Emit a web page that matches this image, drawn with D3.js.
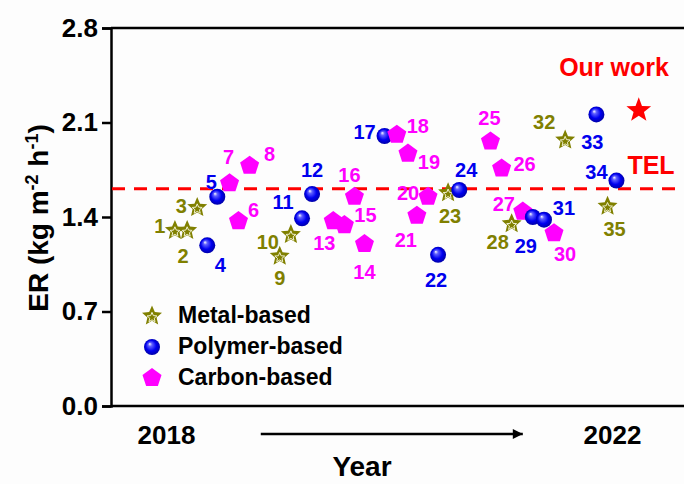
<!DOCTYPE html>
<html>
<head>
<meta charset="utf-8">
<script src="https://cdn.jsdelivr.net/npm/d3@7"></script>
<style>
body { margin: 0; background: #fff; }
text { font-family: "Liberation Sans", Arial, sans-serif; font-weight: bold; }
</style>
</head>
<body>
<div id="chart"></div>
<script>
// ER of reported evaporators, 2018 -> 2022

var width = 684;
var height = 484;
var plotLeft = 111, plotTop = 28, plotBottom = 406, plotRight = 700;

// data
var pointIds   = [1, 2, 3, 4, 5, 6, 7, 8, 9, 10, 11, 12, 13, 14, 15, 16, 17, 18,
                  19, 20, 21, 22, 23, 24, 25, 26, 27, 28, 29, 30, 31, 32, 33, 34, 35];
var pointYear  = [2018.08, 2018.19, 2018.28, 2018.37, 2018.46, 2018.65, 2018.57, 2018.75, 2019.02, 2019.12,
                  2019.22, 2019.31, 2019.50, 2019.78, 2019.60, 2019.69, 2019.96, 2020.07, 2020.17, 2020.35,
                  2020.25, 2020.44, 2020.53, 2020.63, 2020.91, 2021.01, 2021.20, 2021.10, 2021.29, 2021.48,
                  2021.39, 2021.58, 2021.86, 2022.04, 2021.96];
var pointER    = [1.30, 1.30, 1.47, 1.19, 1.55, 1.37, 1.65, 1.78, 1.11, 1.27,
                  1.39, 1.57, 1.37, 1.20, 1.34, 1.55, 2.00, 2.01, 1.87, 1.55,
                  1.41, 1.12, 1.58, 1.60, 1.96, 1.76, 1.44, 1.35, 1.40, 1.28,
                  1.38, 1.97, 2.16, 1.67, 1.48];
var pointType  = ["M", "M", "M", "P", "P", "C", "C", "C", "M", "M",
                  "P", "P", "C", "C", "C", "C", "P", "C", "C", "C",
                  "C", "P", "M", "P", "C", "C", "C", "M", "P", "C",
                  "P", "M", "P", "P", "M"];
var ourYear = 2022.24, ourER = 2.19;
var telER = 1.61;
var yTicks = [0, 0.7, 1.4, 2.1, 2.8];
var xTicks = [2018, 2022];
var legendNames = ["Metal-based", "Polymer-based", "Carbon-based"];
var legendTypes = ["M", "P", "C"];

// label placement around each marker (layout only)
var labelOffsets = [[-15,-5],[-4,25],[-16,-2],[13,20],[-6,-15],[15,-11],[-1,-26],[20,-12],[0,22],[-23,7],
                    [-19,-16],[0,-24],[-9,22],[0,28],[21,-10],[-5,-22],[-20,-4],[21,-9],[21,8],[-20,-4],
                    [-11,24],[-2,25],[2,23],[7,-20],[-1,-23],[23,-4],[-19,-8],[-14,18],[-7,29],[11,21],
                    [20,-12],[-21,-18],[-4,28],[-20,-9],[7,23]];

var typeColor = { M: "#808000", P: "#0000ee", C: "#ff00ff" };

var svg = d3.select("#chart")
            .append("svg")
            .attr("width", width)
            .attr("height", height);

svg.append("rect").attr("width", width).attr("height", height).attr("fill", "#fdfdfd");

var defs = svg.append("defs");
var grad = defs.append("radialGradient").attr("id", "sphere")
               .attr("cx", "50%").attr("cy", "50%").attr("r", "55%")
               .attr("fx", "35%").attr("fy", "30%");
grad.append("stop").attr("offset", "0%").attr("stop-color", "#ffffff");
grad.append("stop").attr("offset", "22%").attr("stop-color", "#6060ff");
grad.append("stop").attr("offset", "60%").attr("stop-color", "#0000f0");
grad.append("stop").attr("offset", "100%").attr("stop-color", "#00009a");

// scales
var x = d3.scaleLinear().domain([2018, 2022]).range([166, 612]);
var y = d3.scaleLinear().domain([0, 2.8]).range([plotBottom, plotTop]);

// polygon helpers
function starPath(R, ratio) {
    var pts = [];
    for (var k = 0; k < 10; k++) {
        var r = (k % 2 == 0) ? R : R * ratio;
        var a = -Math.PI / 2 + k * Math.PI / 5;
        pts.push([r * Math.cos(a), r * Math.sin(a)]);
    }
    return "M" + pts.join("L") + "Z";
}
function pentagonPath(R) {
    var pts = [];
    for (var k = 0; k < 5; k++) {
        var a = -Math.PI / 2 + k * 2 * Math.PI / 5;
        pts.push([R * Math.cos(a), R * Math.sin(a)]);
    }
    return "M" + pts.join("L") + "Z";
}

function drawMarker(g, type) {
    if (type == "M") {
        g.append("path").attr("d", starPath(10.5, 0.46)).attr("fill", "#808000");
        g.append("path").attr("d", starPath(5.2, 0.45)).attr("transform", "translate(0,1.5)")
         .attr("fill", "none").attr("stroke", "#f0f0d0").attr("stroke-width", 1);
    } else if (type == "P") {
        g.append("circle").attr("r", 8).attr("fill", "url(#sphere)");
    } else {
        g.append("path").attr("d", pentagonPath(10)).attr("fill", "#ff00ff");
    }
}

// frame
svg.append("line").attr("x1", plotLeft).attr("x2", plotRight)
   .attr("y1", plotTop).attr("y2", plotTop)
   .attr("stroke", "#000").attr("stroke-width", 2.5);
svg.append("line").attr("x1", plotLeft).attr("x2", plotRight)
   .attr("y1", plotBottom).attr("y2", plotBottom)
   .attr("stroke", "#000").attr("stroke-width", 2.5);

// y axis
var yAxis = svg.append("g")
   .attr("transform", "translate(" + plotLeft + ",0)")
   .call(d3.axisLeft(y).tickValues(yTicks).tickSize(9).tickPadding(4).tickFormat(d3.format(".1f")));
yAxis.select(".domain").attr("stroke-width", 2.5);
yAxis.selectAll(".tick line").attr("stroke-width", 2.5);
yAxis.selectAll("text").attr("font-size", 26).attr("fill", "#000")
     .attr("font-family", "Liberation Sans, Arial, sans-serif").attr("font-weight", "bold");

// x axis: only year labels
var xAxis = svg.append("g")
   .attr("transform", "translate(0," + plotBottom + ")")
   .call(d3.axisBottom(x).tickValues(xTicks).tickSize(0).tickPadding(20).tickFormat(d3.format("d")));
xAxis.select(".domain").remove();
xAxis.selectAll("text").attr("font-size", 26).attr("fill", "#000")
     .attr("font-family", "Liberation Sans, Arial, sans-serif").attr("font-weight", "bold");

// arrow under the axis
defs.append("marker").attr("id", "arrowhead")
    .attr("viewBox", "0 0 10 10").attr("refX", 10).attr("refY", 5)
    .attr("markerWidth", 16).attr("markerHeight", 10).attr("markerUnits", "userSpaceOnUse")
    .attr("orient", "auto")
    .append("path").attr("d", "M0,0L10,5L0,10Z").attr("fill", "#000");
svg.append("line")
   .attr("x1", x(2018.85)).attr("x2", x(2021.2))
   .attr("y1", 434).attr("y2", 434)
   .attr("stroke", "#000").attr("stroke-width", 2.5)
   .attr("marker-end", "url(#arrowhead)");

// axis titles
svg.append("text").attr("x", 362).attr("y", 476).attr("text-anchor", "middle")
   .attr("font-size", 28).text("Year");

var yt = svg.append("text")
   .attr("transform", "translate(48,218) rotate(-90)")
   .attr("text-anchor", "middle").attr("font-size", 28);
yt.append("tspan").text("ER (kg m");
yt.append("tspan").attr("dy", -10).attr("font-size", 18).text("-2");
yt.append("tspan").attr("dy", 10).text(" h");
yt.append("tspan").attr("dy", -10).attr("font-size", 18).text("-1");
yt.append("tspan").attr("dy", 10).text(")");

// TEL dashed line
svg.append("line")
   .attr("x1", plotLeft + 1).attr("x2", plotRight)
   .attr("y1", y(telER)).attr("y2", y(telER))
   .attr("stroke", "#ff0000").attr("stroke-width", 3)
   .attr("stroke-dasharray", "13,9");
svg.append("text").attr("x", 651).attr("y", y(telER) - 24)
   .attr("text-anchor", "middle").attr("dominant-baseline", "central")
   .attr("font-size", 25).attr("fill", "#ff0000").text("TEL");

// points
var pts = svg.append("g");
pointIds.forEach(function(id, i) {
    var g = pts.append("g")
               .attr("transform", "translate(" + x(pointYear[i]) + "," + y(pointER[i]) + ")");
    drawMarker(g, pointType[i]);
});
pointIds.forEach(function(id, i) {
    svg.append("text")
       .attr("x", x(pointYear[i]) + labelOffsets[i][0])
       .attr("y", y(pointER[i]) + labelOffsets[i][1])
       .attr("text-anchor", "middle").attr("dominant-baseline", "central")
       .attr("font-size", 20).attr("fill", typeColor[pointType[i]])
       .text(id);
});

// our work
svg.append("path").attr("d", starPath(13, 0.42))
   .attr("transform", "translate(" + x(ourYear) + "," + y(ourER) + ")")
   .attr("fill", "#ff0000");
svg.append("text").attr("x", 614).attr("y", 67)
   .attr("text-anchor", "middle").attr("dominant-baseline", "central")
   .attr("font-size", 25).attr("fill", "#ff0000").text("Our work");

// legend
legendNames.forEach(function(name, i) {
    var ly = 316 + i * 31;
    var g = svg.append("g").attr("transform", "translate(152," + ly + ")");
    drawMarker(g, legendTypes[i]);
    svg.append("text").attr("x", 178).attr("y", ly - 1)
       .attr("dominant-baseline", "central").attr("font-size", 23).attr("fill", "#000")
       .text(name);
});
</script>
</body>
</html>
